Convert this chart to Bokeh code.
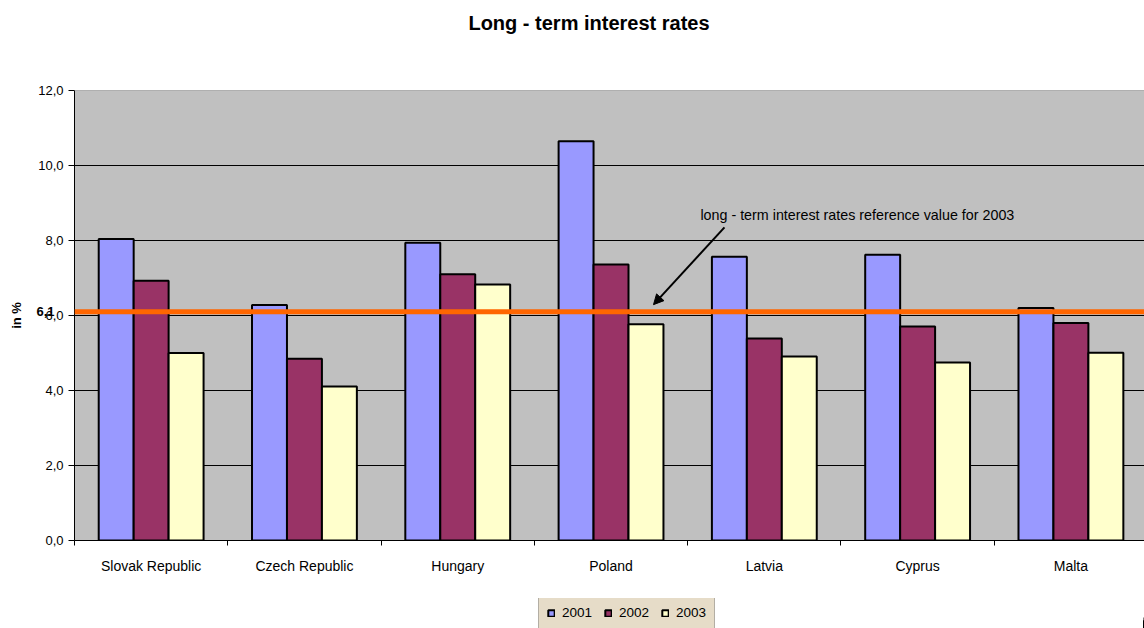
from bokeh.plotting import figure
from bokeh.layouts import column
from bokeh.models import (Range1d, FixedTicker, Span, Label, Legend, LegendItem,
                          Arrow, NormalHead, LinearAxis)
from bokeh.embed import file_html
from bokeh.resources import INLINE
import numpy as np

# Long-term interest rates by country and year (in %)
countries = ["Slovak Republic", "Czech Republic", "Hungary", "Poland",
             "Latvia", "Cyprus", "Malta"]
years = ["2001", "2002", "2003"]
rates_2001 = [8.04, 6.28, 7.94, 10.65, 7.57, 7.62, 6.20]
rates_2002 = [6.93, 4.85, 7.10, 7.36, 5.39, 5.71, 5.80]
rates_2003 = [5.00, 4.11, 6.83, 5.77, 4.91, 4.75, 5.01]
reference_value = 6.1
reference_label = "6,1"
y_ticks = [0, 2, 4, 6, 8, 10, 12]
y_tick_labels = ["0,0", "2,0", "4,0", "6,0", "8,0", "10,0", "12,0"]

FONT = "Liberation Sans"
colors = ["#9999FF", "#993366", "#FFFFCC"]
series = [rates_2001, rates_2002, rates_2003]
bar_w = 0.228
offsets = [-bar_w, 0.0, bar_w]
group_centers = np.arange(len(countries)) + 0.5


def bare_strip(height, x_range):
    f = figure(width=1144, height=height, output_backend="svg", toolbar_location=None,
               x_range=x_range, y_range=Range1d(0, height),
               x_axis_location=None, y_axis_location=None,
               min_border_left=0, min_border_right=0, min_border_top=0,
               min_border_bottom=0)
    f.outline_line_color = None
    f.background_fill_color = "white"
    f.border_fill_color = "white"
    f.xgrid.grid_line_color = None
    f.ygrid.grid_line_color = None
    return f


# ---- title strip ----
head = bare_strip(80, Range1d(0, 1))
head.add_layout(Label(x=514.5, y=58, x_units="screen", y_units="screen",
                      text="Long - term interest rates", text_font=FONT,
                      text_font_size="20px", text_font_style="bold",
                      text_align="center", text_baseline="middle",
                      text_color="black"))

# ---- main chart ----
p = figure(width=1144, height=518, output_backend="svg", toolbar_location=None,
           x_range=Range1d(0, 6.98), y_range=Range1d(0, 12),
           min_border_left=74, min_border_right=0, min_border_top=10,
           min_border_bottom=58)
p.background_fill_color = "#C0C0C0"
p.border_fill_color = "white"
p.outline_line_color = None

for vals, off, col in zip(series, offsets, colors):
    p.vbar(x=group_centers + off, top=vals, bottom=0, width=bar_w,
           fill_color=col, line_color="black", line_width=2)

# y axis
p.yaxis.ticker = FixedTicker(ticks=y_ticks)
p.yaxis.major_label_overrides = {t: s for t, s in zip(y_ticks, y_tick_labels)}
p.yaxis.major_label_text_font = FONT
p.yaxis.major_label_text_font_size = "13px"
p.yaxis.major_label_text_color = "black"
p.yaxis.major_tick_in = 0
p.yaxis.major_tick_out = 6
p.yaxis.minor_tick_line_color = None
p.yaxis.axis_line_color = "black"
p.yaxis.major_label_standoff = 5

# outer left axis carrying the reference value and the axis title
ref_axis = LinearAxis(ticker=FixedTicker(ticks=[reference_value]),
                      major_label_overrides={reference_value: reference_label})
ref_axis.axis_line_color = None
ref_axis.major_tick_line_color = None
ref_axis.minor_tick_line_color = None
ref_axis.major_tick_in = 0
ref_axis.major_tick_out = 0
ref_axis.major_label_standoff = -19
ref_axis.major_label_text_font = FONT
ref_axis.major_label_text_font_size = "13px"
ref_axis.major_label_text_font_style = "bold"
ref_axis.major_label_text_color = "black"
ref_axis.major_label_text_baseline = "alphabetic"
ref_axis.axis_label = "in %"
ref_axis.axis_label_text_font = FONT
ref_axis.axis_label_text_font_style = "bold"
ref_axis.axis_label_text_font_size = "13px"
ref_axis.axis_label_text_color = "black"
ref_axis.axis_label_standoff = 9
p.add_layout(ref_axis, "left")

# x axis: labels centred on groups, ticks on group boundaries
p.xaxis.ticker = FixedTicker(ticks=list(group_centers),
                             minor_ticks=list(range(len(countries) + 1)))
p.xaxis.major_label_overrides = {float(c): n for c, n in zip(group_centers, countries)}
p.xaxis.major_label_text_font = FONT
p.xaxis.major_label_text_font_size = "14px"
p.xaxis.major_label_text_color = "black"
p.xaxis.major_tick_line_color = None
p.xaxis.major_tick_in = 0
p.xaxis.major_tick_out = 0
p.xaxis.minor_tick_in = 0
p.xaxis.minor_tick_out = 5
p.xaxis.minor_tick_line_color = "black"
p.xaxis.axis_line_color = "black"
p.xaxis.major_label_standoff = 12

# grid
p.xgrid.grid_line_color = None
p.ygrid.ticker = FixedTicker(ticks=y_ticks[1:-1])
p.ygrid.grid_line_color = "black"
p.ygrid.grid_line_width = 1
p.add_layout(Span(location=12, dimension="width", line_color="#808080",
                  line_width=1))

# reference value line
p.add_layout(Span(location=reference_value, dimension="width",
                  line_color="#FF6600", line_width=5))

# annotation with arrow
p.add_layout(Label(x=4.083, y=8.69, text="long - term interest rates reference value for 2003",
                   text_font=FONT, text_font_size="14.3px", text_align="left",
                   text_baseline="middle", text_color="black"))
p.add_layout(Arrow(x_start=4.24, y_start=8.35, x_end=3.777, y_end=6.29,
                   line_color="black", line_width=2,
                   end=NormalHead(size=10, fill_color="black", line_color="black")))

# ---- legend strip ----
# swatch renderers carry the same series but lie far outside this strip's x range
leg = bare_strip(30, Range1d(-2000, -930))
swatches = [leg.vbar(x=group_centers + off, top=vals, bottom=0, width=bar_w,
                     fill_color=col, line_color="black", line_width=2)
            for vals, off, col in zip(series, offsets, colors)]

legend = Legend(items=[LegendItem(label=y, renderers=[r]) for y, r in zip(years, swatches)],
                orientation="horizontal", location=(464, -1))
legend.background_fill_color = "#E6DCC8"
legend.background_fill_alpha = 1
legend.border_line_color = "#808080"
legend.border_line_width = 1
legend.label_text_font = FONT
legend.label_text_font_size = "13.5px"
legend.label_text_color = "black"
legend.glyph_width = 8
legend.glyph_height = 8
legend.label_standoff = 7
legend.spacing = 12
legend.padding = 8
legend.margin = 0
legend.label_height = 14
leg.add_layout(legend, "center")

open("out.html", "w").write(file_html(column(head, p, leg, spacing=0), INLINE))
